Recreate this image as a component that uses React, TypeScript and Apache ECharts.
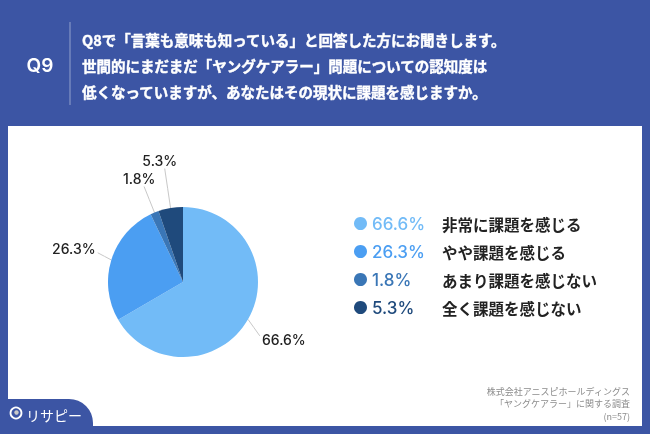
import React, { useEffect, useRef } from "react";
import * as echarts from "echarts";

const categories = ["非常に課題を感じる", "やや課題を感じる", "あまり課題を感じない", "全く課題を感じない"];
const values = [66.6, 26.3, 1.8, 5.3];
const colors = ["#72bbf7", "#4b9ef2", "#3a76b6", "#1f4a7c"];
const titleLines = [
  "Q8で「言葉も意味も知っている」と回答した方にお聞きします。",
  "世間的にまだまだ「ヤングケアラー」問題についての認知度は",
  "低くなっていますが、あなたはその現状に課題を感じますか。",
];
const footerLines = ["株式会社アニスピホールディングス", "「ヤングケアラー」に関する調査", "(n=57)"];
// label nudges (layout only) and where the leader line meets the label (fraction of label box)
const labelNudge = [
  [-4, 16],
  [-2, -9],
  [30, -38],
  [19, -40],
];
const lineAnchor = [
  [-0.05, 0.25],
  [1.05, 0.8],
  [0.65, 1.1],
  [0.64, 1.1],
];

const BLUE = "#3c55a4";
const JP = '"Noto Sans CJK JP", "Noto Sans", sans-serif';
const NUM = 'Inter, "Noto Sans", sans-serif';

export default function App() {
  const ref = useRef<HTMLDivElement>(null);
  useEffect(() => {
    if (!ref.current) return;
    const chart = echarts.init(ref.current, null, { renderer: "svg" });
    const rich: any = {
      n: { fontFamily: JP, fontSize: 15.5, fontWeight: "bold", color: "#222", lineHeight: 18 },
    };
    colors.forEach((c, i) => {
      rich["p" + i] = { fontFamily: NUM, fontSize: 17, fontWeight: 500, color: c, width: 70, lineHeight: 18 };
    });
    const graphic: any[] = [
      { type: "rect", shape: { x: 0, y: 0, width: 650, height: 434 }, style: { fill: BLUE }, z: -10 },
      { type: "rect", shape: { x: 8, y: 126, width: 634, height: 300 }, style: { fill: "#ffffff" }, z: -9 },
      { type: "rect", shape: { x: 0, y: 399, width: 93, height: 35, r: [0, 24, 0, 0] }, style: { fill: BLUE }, z: -8 },
      { type: "text", x: 40, y: 65, style: { text: "Q9", fill: "#fff", font: `600 19px ${NUM}`, align: "center", verticalAlign: "middle" } },
      { type: "line", shape: { x1: 70, y1: 22, x2: 70, y2: 105 }, style: { stroke: "rgba(255,255,255,0.45)", lineWidth: 1 } },
      ...titleLines.map((t, i) => ({
        type: "text",
        x: 82,
        y: 39 + i * 26,
        style: { text: t, fill: "#fff", font: `bold 14.5px ${JP}`, verticalAlign: "middle", stroke: "#fff", lineWidth: 0.4 },
      })),
      ...footerLines.map((t, i) => ({
        type: "text",
        x: 630,
        y: 391 + i * 12.5,
        style: { text: t, fill: "#8c8c8c", font: `9px ${JP}`, align: "right", verticalAlign: "middle" },
      })),
      { type: "circle", shape: { cx: 16, cy: 413, r: 5.5 }, style: { fill: BLUE, stroke: "#fff", lineWidth: 1.8 } },
      { type: "circle", shape: { cx: 16.5, cy: 412.5, r: 2.2 }, style: { fill: "#c9c9c9" } },
      { type: "text", x: 26, y: 415, style: { text: "リサピー", fill: "#fff", font: `14px ${JP}`, verticalAlign: "middle" } },
    ];
    chart.setOption({
      animation: false,
      graphic,
      legend: {
        orient: "vertical",
        left: 349,
        top: 210,
        icon: "circle",
        itemWidth: 13,
        itemHeight: 13,
        itemGap: 11,
        data: categories,
        selectedMode: false,
        formatter: (name: string) => {
          const i = categories.indexOf(name);
          return `{p${i}|${values[i]}%}{n|${name}}`;
        },
        textStyle: { rich },
      },
      series: [
        {
          type: "pie",
          center: [183, 282],
          radius: [0, 75],
          startAngle: 90,
          clockwise: true,
          data: categories.map((c, i) => ({ name: c, value: values[i], itemStyle: { color: colors[i] } })),
          label: {
            show: true,
            formatter: (p: any) => `${p.value}%`,
            fontFamily: NUM,
            fontSize: 14,
            fontWeight: 500,
            color: "#222",
          },
          labelLine: { show: true, length: 8, length2: 6, lineStyle: { color: "#c8c8c8", width: 1 } },
          labelLayout: (params: any) => {
            const i = params.dataIndex;
            const n = labelNudge[i] || [0, 0];
            const a = lineAnchor[i] || [0, 0.5];
            const r = params.labelRect;
            const pts = params.labelLinePoints;
            if (!pts || !r) return { dx: n[0], dy: n[1] };
            const p0 = pts[0];
            const end = [r.x + n[0] + r.width * a[0], r.y + n[1] + r.height * a[1]];
            const mid = [(p0[0] + end[0]) / 2, (p0[1] + end[1]) / 2];
            return { dx: n[0], dy: n[1], labelLinePoints: [p0, mid, end] };
          },
          emphasis: { disabled: true },
        },
      ],
    });
    return () => chart.dispose();
  }, []);
  return <div ref={ref} style={{ position: "fixed", left: 0, top: 0, width: 650, height: 434 }} />;
}
